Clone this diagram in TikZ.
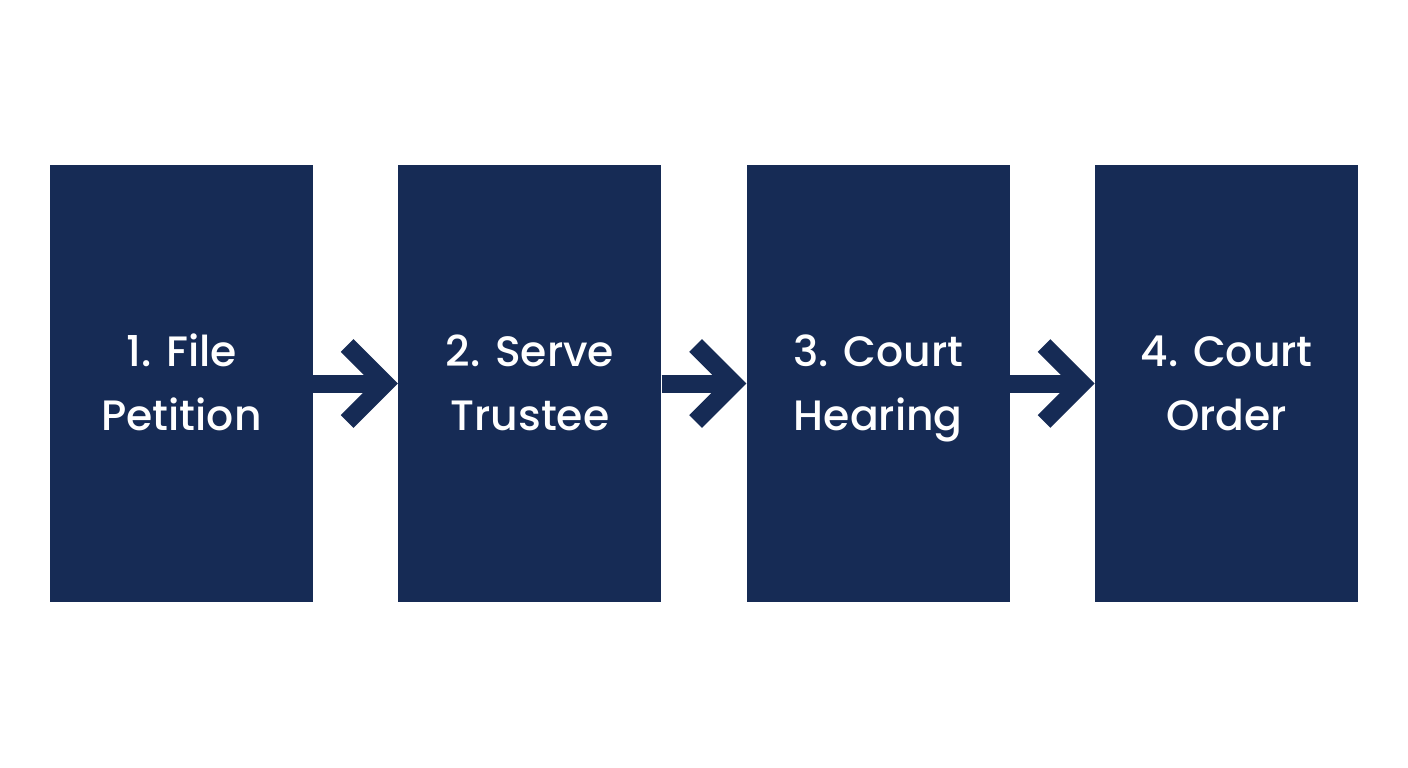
\documentclass[tikz,border=0pt]{standalone}
\usepackage{fontspec}
\setmainfont{Poppins}[UprightFont=* Medium]
\usetikzlibrary{calc}

\definecolor{navy}{HTML}{162B55}

\begin{document}
\begin{tikzpicture}[x=1pt,y=-1pt,node distance=348.4pt,
                    stepbox/.style={rectangle,fill=navy,draw=none,inner sep=0pt,
                      minimum width=263pt,minimum height=437pt,text=white,
                      align=center,text height=94pt,text depth=1pt,
                      font=\fontsize{42.5}{64}\selectfont},
                    link/.style={draw=navy,line width=18pt},
                    barb/.style={draw=navy,line width=18pt,line join=miter}]
 \useasboundingbox[fill=white] (0,0) rectangle (1408,768);

 \node [stepbox] (b1) at (181.5,383.5) {1. File\\Petition};
 \node [stepbox] (b2) [right of=b1] {2. Serve\\Trustee};
 \node [stepbox] (b3) [right of=b2] {3. Court\\Hearing};
 \node [stepbox] (b4) [right of=b3] {4. Court\\Order};

 % connectors with open chevron heads
 \foreach \a/\b in {b1/b2,b2/b3,b3/b4}{
   \coordinate (tip) at ($(\b.west)+(-13,0)$);
   \path [link] (\a.east) -- (tip);
   \path [barb] ($(tip)+(-38,-38)$) -- (tip) -- ($(tip)+(-38,38)$);
 }
\end{tikzpicture}
\end{document}
